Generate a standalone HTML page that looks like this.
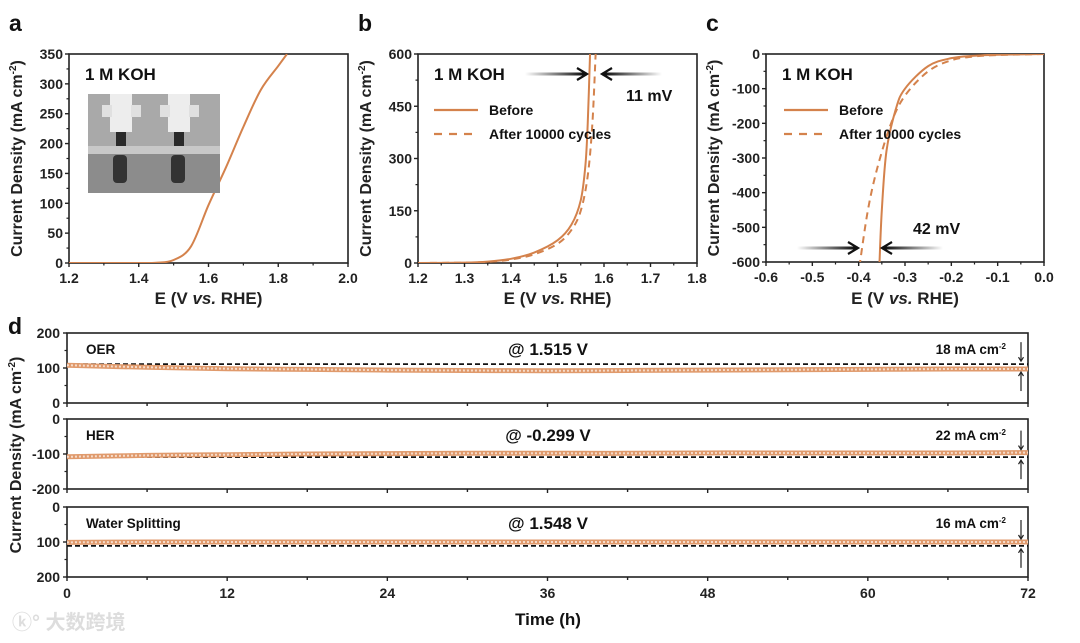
<!DOCTYPE html>
<html><head><meta charset="utf-8">
<style>
body{margin:0;background:#fff;width:1080px;height:638px;overflow:hidden}
svg{font-family:"Liberation Sans",Arial,sans-serif;font-weight:bold}
</style></head>
<body>
<svg id="fig" width="1080" height="638" viewBox="0 0 1080 638" xmlns="http://www.w3.org/2000/svg">
<defs>
<linearGradient id="gl" x1="0" x2="1" y1="0" y2="0"><stop offset="0" stop-color="#000" stop-opacity="0"/><stop offset="1" stop-color="#000"/></linearGradient>
<linearGradient id="gr" x1="1" x2="0" y1="0" y2="0"><stop offset="0" stop-color="#000" stop-opacity="0"/><stop offset="1" stop-color="#000"/></linearGradient>
</defs>
<g id="root"></g>
</svg>
<script>
// ---- data ----
const aX=[1.2,1.3,1.4,1.45,1.5,1.55,1.6,1.65,1.7,1.75,1.8,1.825];
const aY=[0,0,0,0.5,5,28,97,160,228,290,330,350];
const bX=[1.2,1.3,1.35,1.4,1.45,1.5,1.53,1.55,1.56,1.565,1.57];
const bBefore=[0,1,4,12,30,65,110,180,280,400,600];
const bX2=[1.2,1.3,1.35,1.4,1.45,1.5,1.53,1.55,1.565,1.575,1.582];
const bAfter=[0,1,3,10,25,55,95,150,250,400,600];
const cX=[0,-0.1,-0.15,-0.2,-0.25,-0.3,-0.32,-0.34,-0.35,-0.355];
const cBefore=[0,-2,-5,-12,-35,-100,-160,-280,-450,-600];
const cX2=[0,-0.1,-0.15,-0.2,-0.25,-0.3,-0.33,-0.36,-0.38,-0.397];
const cAfter=[0,-3,-7,-18,-50,-120,-200,-330,-450,-600];
const dT=[0,6,12,18,24,30,36,42,48,54,60,66,72];
const dOER=[108,102,98,96,94,93,92,93,94,95,96,97,97];
const dHER=[-108,-104,-102,-100,-99,-98,-98,-98,-97,-97,-97,-97,-96];
const dWS=[101,100,100,100,100,100,100,100,100,100,100,100,100];
const dRef=[111,-109,111];
const dLabels=["OER","HER","Water Splitting"];
const dPot=["@ 1.515 V","@ -0.299 V","@ 1.548 V"];
const dDelta=["18","22","16"];
// ---- helpers ----
const NS="http://www.w3.org/2000/svg";
const root=document.getElementById('root');
function el(tag,attrs,parent,txt){const e=document.createElementNS(NS,tag);for(const k in attrs)e.setAttribute(k,attrs[k]);if(txt!==undefined)e.textContent=txt;(parent||root).appendChild(e);return e;}
const OR="#d4824c";
function lin(d0,d1,r0,r1){return v=>r0+(v-d0)/(d1-d0)*(r1-r0);}
function smooth(P){let d='M'+P[0][0]+','+P[0][1];
  for(let i=0;i<P.length-1;i++){const p0=P[Math.max(0,i-1)],p1=P[i],p2=P[i+1],p3=P[Math.min(P.length-1,i+2)];
    const c1=[p1[0]+(p2[0]-p0[0])/6,p1[1]+(p2[1]-p0[1])/6],c2=[p2[0]-(p3[0]-p1[0])/6,p2[1]-(p3[1]-p1[1])/6];
    d+=` C${c1[0]},${c1[1]} ${c2[0]},${c2[1]} ${p2[0]},${p2[1]}`;}
  return d;}

function panel(cfg){
  const g=el('g',{});
  
  
  const sx=lin(cfg.x0,cfg.x1,cfg.L,cfg.R), sy=lin(cfg.y0,cfg.y1,cfg.B,cfg.T);
  const fr=el('rect',{x:cfg.L,y:cfg.T,width:cfg.R-cfg.L,height:cfg.B-cfg.T,fill:'none',stroke:'#222','stroke-width':1.6},g);
  
  cfg.xt.forEach((v,i)=>{const x=sx(v);
    el('line',{x1:x,x2:x,y1:cfg.B,y2:cfg.B+4,stroke:'#222','stroke-width':1.4},g);
    if(i<cfg.xt.length-1){const xm=sx(v+(cfg.xt[1]-cfg.xt[0])/2);el('line',{x1:xm,x2:xm,y1:cfg.B,y2:cfg.B+2.5,stroke:'#222','stroke-width':1.2},g);}
    const t=el('text',{x:x,y:cfg.B+20,'font-size':14,'text-anchor':'middle',fill:'#222'},g,cfg.xl[i]);
    });
  cfg.yt.forEach((v,i)=>{const y=sy(v);
    el('line',{x1:cfg.L-4,x2:cfg.L,y1:y,y2:y,stroke:'#222','stroke-width':1.4},g);
    if(i<cfg.yt.length-1){const ym=sy(v+(cfg.yt[1]-cfg.yt[0])/2);el('line',{x1:cfg.L-2.5,x2:cfg.L,y1:ym,y2:ym,stroke:'#222','stroke-width':1.2},g);}
    const t=el('text',{x:cfg.L-6,y:y+5,'font-size':14,'text-anchor':'end',fill:'#222'},g,cfg.yl[i]);
    });
  const xt=el('text',{x:(cfg.L+cfg.R)/2,y:304,'font-size':17,'text-anchor':'middle',fill:'#222'},g);
  xt.innerHTML='E (V <tspan font-style="italic">vs.</tspan> RHE)';
  
  const yt=el('text',{transform:`translate(${cfg.L-47},${(cfg.T+cfg.B)/2}) rotate(-90)`,'font-size':16,'text-anchor':'middle',fill:'#222'},g);
  yt.innerHTML='Current Density (mA cm<tspan dy="-6" font-size="10">-2</tspan><tspan dy="6">)</tspan>';
  
  const lt=el('text',{x:cfg.L-60,y:31,'font-size':23,fill:'#111'},g,cfg.letter);
  
  const kt=el('text',{x:cfg.L+16,y:80,'font-size':17,fill:'#111'},g,'1 M KOH');
  
  const cp=el('clipPath',{id:'cp'+cfg.letter},g);el('rect',{x:cfg.L,y:cfg.T,width:cfg.R-cfg.L,height:cfg.B-cfg.T},cp);
  cfg.series.forEach(s=>{
    const P=s.x.map((v,i)=>[sx(v),sy(s.y[i])]);
    const p=el('path',{d:smooth(P),fill:'none',stroke:OR,'stroke-width':2,'stroke-dasharray':s.dash||'none','clip-path':`url(#cp${cfg.letter})`,'stroke-linejoin':'round'},g);
    
  });
  return {g,sx,sy};
}

// panel a
const A=panel({name:'panel-a',letter:'a',L:69,R:348,T:54,B:263,x0:1.2,x1:2.0,y0:0,y1:350,
  xt:[1.2,1.4,1.6,1.8,2.0],xl:['1.2','1.4','1.6','1.8','2.0'],yt:[0,50,100,150,200,250,300,350],yl:['0','50','100','150','200','250','300','350'],
  series:[{x:aX,y:aY,name:'polarization-curve'}]});
(function(){const g=el('g',{},A.g);
  el('rect',{x:88,y:94,width:132,height:99,fill:'#8c8c8c'},g);
  el('rect',{x:88,y:94,width:132,height:52,fill:'#a9a9a9'},g);
  el('rect',{x:88,y:146,width:132,height:8,fill:'#c8c8c8'},g);
  [[110,114],[168,172]].forEach(([a,b])=>{
    el('rect',{x:a,y:94,width:22,height:38,fill:'#ededed'},g);
    el('rect',{x:a-8,y:105,width:10,height:12,fill:'#e0e0e0'},g);
    el('rect',{x:a+21,y:105,width:10,height:12,fill:'#e0e0e0'},g);
    el('rect',{x:a+6,y:132,width:10,height:14,fill:'#2a2a2a'},g);
    el('rect',{x:a+3,y:155,width:14,height:28,fill:'#333',rx:4},g);});
})();

const Bp=panel({name:'panel-b',letter:'b',L:418,R:697,T:54,B:263,x0:1.2,x1:1.8,y0:0,y1:600,
  xt:[1.2,1.3,1.4,1.5,1.6,1.7,1.8],xl:['1.2','1.3','1.4','1.5','1.6','1.7','1.8'],yt:[0,150,300,450,600],yl:['0','150','300','450','600'],
  series:[{x:bX,y:bBefore,name:'before-curve'},{x:bX2,y:bAfter,name:'after-curve',dash:'7,5'}]});
const Cp=panel({name:'panel-c',letter:'c',L:766,R:1044,T:54,B:262,x0:-0.6,x1:0,y0:-600,y1:0,
  xt:[-0.6,-0.5,-0.4,-0.3,-0.2,-0.1,0],xl:['-0.6','-0.5','-0.4','-0.3','-0.2','-0.1','0.0'],yt:[-600,-500,-400,-300,-200,-100,0],yl:['-600','-500','-400','-300','-200','-100','0'],
  series:[{x:cX,y:cBefore,name:'before-curve'},{x:cX2,y:cAfter,name:'after-curve',dash:'7,5'}]});

function legend(g,x,y){const lg=el('g',{},g);
  el('line',{x1:x,x2:x+44,y1:y,y2:y,stroke:OR,'stroke-width':2.2},lg);
  el('text',{x:x+55,y:y+5,'font-size':14,fill:'#111'},lg,'Before');
  el('line',{x1:x,x2:x+44,y1:y+24,y2:y+24,stroke:OR,'stroke-width':2.2,'stroke-dasharray':'8,7'},lg);
  el('text',{x:x+55,y:y+29,'font-size':14,fill:'#111'},lg,'After 10000 cycles');}
legend(Bp.g,434,110);legend(Cp.g,784,110);

function arrow(g,x1,x2,y,grad){const a=el('g',{},g);
  el('rect',{x:Math.min(x1,x2),y:y-1.5,width:Math.abs(x2-x1),height:3,fill:`url(#${grad})`},a);
  const d=x2>x1?1:-1;el('polyline',{points:`${x2-10*d},${y-6} ${x2},${y} ${x2-10*d},${y+6}`,fill:'none',stroke:'#111','stroke-width':2.2},a);}
arrow(Bp.g,525,587,74,'gl');arrow(Bp.g,662,602,74,'gr');
let t=el('text',{x:626,y:101,'font-size':16,fill:'#111'},Bp.g,'11 mV');
arrow(Cp.g,797,858,248,'gl');arrow(Cp.g,943,882,248,'gr');
t=el('text',{x:913,y:234,'font-size':16,fill:'#111'},Cp.g,'42 mV');

// panel d
(function(){
  const g=el('g',{});
  const L=67,R=1028;const sx=lin(0,72,L,R);
  const tops=[333,419,507],H=70;
  const ranges=[[0,200],[-200,0],[200,0]];
  const ylabs=[['0','100','200'],['-200','-100','0'],['200','100','0']];
  const series=[dOER,dHER,dWS];
  let lt=el('text',{x:8,y:334,'font-size':23,fill:'#111'},g,'d');
  tops.forEach((T,k)=>{const B=T+H;const sy=lin(ranges[k][0],ranges[k][1],B,T);
    const sg=el('g',{},g);
    el('rect',{x:L,y:T,width:R-L,height:H,fill:'none',stroke:'#222','stroke-width':1.6},sg);
    for(let h=0;h<=72;h+=6){const x=sx(h);el('line',{x1:x,x2:x,y1:B,y2:B+(h%12?3:4),stroke:'#222','stroke-width':1.4},sg);}
    [0,1,2].forEach(i=>{const v=ranges[k][0]+(ranges[k][1]-ranges[k][0])*i/2;const y=sy(v);
      el('line',{x1:L-4,x2:L,y1:y,y2:y,stroke:'#222','stroke-width':1.4},sg);
      const ym=sy(v+(ranges[k][1]-ranges[k][0])/4);if(i<2)el('line',{x1:L-2.5,x2:L,y1:ym,y2:ym,stroke:'#222','stroke-width':1.2},sg);
      const tl=el('text',{x:L-7,y:y+5,'font-size':14,'text-anchor':'end',fill:'#222'},sg,ylabs[k][i]);});
    const ref=el('line',{x1:L,x2:R,y1:sy(dRef[k]),y2:sy(dRef[k]),stroke:'#111','stroke-width':1.8,'stroke-dasharray':'5,3'},sg);
    
    const P=dT.map((h,i)=>[sx(h),sy(series[k][i])]);
    const s1=el('path',{d:smooth(P),fill:'none',stroke:'#e09a6c','stroke-width':5},sg);
    
    el('path',{d:smooth(P),fill:'none',stroke:'#f6dccb','stroke-width':2,'stroke-dasharray':'2,2'},sg);
    let tx=el('text',{x:L+19,y:T+21,'font-size':13.5,fill:'#111'},sg,dLabels[k]);
    tx=el('text',{x:548,y:T+22,'font-size':17,'text-anchor':'middle',fill:'#111'},sg,dPot[k]);
    tx=el('text',{x:1006,y:T+21,'font-size':13.5,'text-anchor':'end',fill:'#111'},sg);tx.innerHTML=dDelta[k]+' mA cm<tspan dy="-5" font-size="8">-2</tspan>';
    
    const ax=1021,yv=sy(series[k][12]),yr=sy(dRef[k]);const up=Math.min(yv,yr),dn=Math.max(yv,yr);
    el('line',{x1:ax,x2:ax,y1:up-22,y2:up-3,stroke:'#222','stroke-width':1.2},sg);
    el('polyline',{points:`${ax-2.5},${up-7} ${ax},${up-3} ${ax+2.5},${up-7}`,fill:'none',stroke:'#222','stroke-width':1.2},sg);
    el('line',{x1:ax,x2:ax,y1:dn+3,y2:dn+22,stroke:'#222','stroke-width':1.2},sg);
    el('polyline',{points:`${ax-2.5},${dn+7} ${ax},${dn+3} ${ax+2.5},${dn+7}`,fill:'none',stroke:'#222','stroke-width':1.2},sg);
  });
  [0,12,24,36,48,60,72].forEach(h=>{const tl=el('text',{x:sx(h),y:598,'font-size':14,'text-anchor':'middle',fill:'#222'},g,String(h));});
  let xt=el('text',{x:548,y:625,'font-size':17,'text-anchor':'middle',fill:'#111'},g,'Time (h)');
  const yt=el('text',{transform:'translate(21,455) rotate(-90)','font-size':16,'text-anchor':'middle',fill:'#222'},g);
  yt.innerHTML='Current Density (mA cm<tspan dy="-6" font-size="10">-2</tspan><tspan dy="6">)</tspan>';
  
  const wm=el('text',{x:12,y:629,'font-size':20,fill:'#ddd','font-family':'"Liberation Sans","Noto Sans CJK SC",sans-serif'},g,'ⓚ° 大数跨境');
  
})();
</script>
</body></html>
